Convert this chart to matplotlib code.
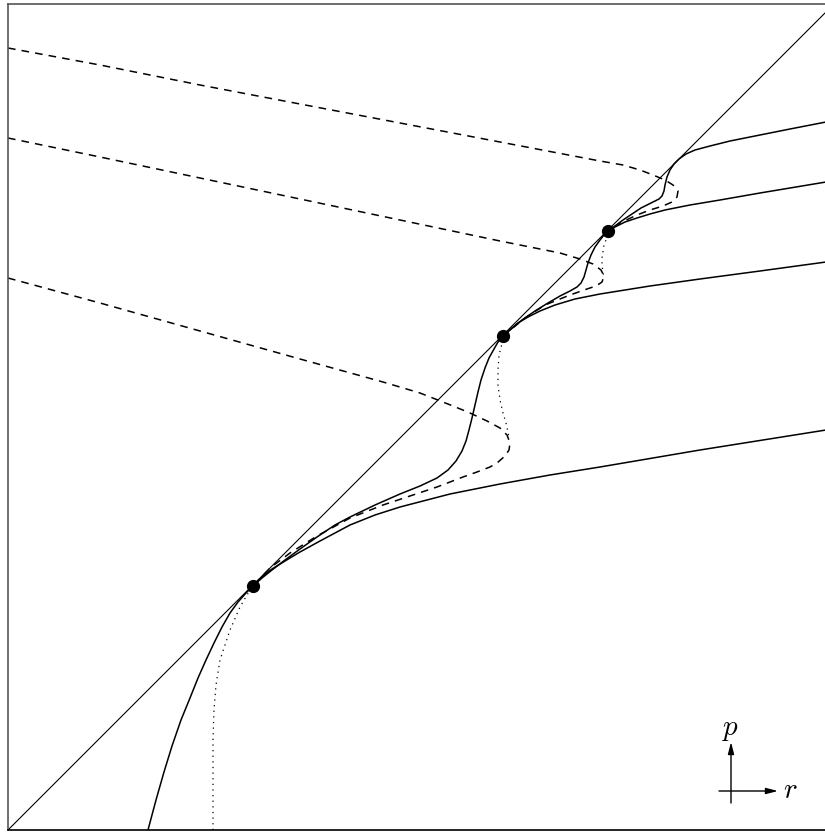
import numpy as np
import matplotlib
matplotlib.use("Agg")
import matplotlib.pyplot as plt

plt.rcParams['mathtext.fontset'] = 'cm'

diag_px = [8, 826]
diag_py = [830, 12]

dots_px = [253, 503, 608]
dots_py = [586, 336, 231]

# solida desde abajo hasta el primer punto fijo
a_px = [148, 156, 164, 172, 181, 190, 198, 206, 214, 222, 230, 238, 246, 253]
a_py = [830, 800, 772, 746, 720, 698, 678, 660, 643, 627, 613, 602, 593, 586]

# punteada desde abajo hasta el primer punto
d1_px = [213, 213, 213, 214, 216, 220, 225, 230, 240, 247, 253]
d1_py = [830, 790, 740, 710, 685, 660, 645, 630, 607, 595, 586]

# solida baja desde el punto 1 hacia la derecha
l1_px = [253, 262, 272, 285, 300, 320, 350, 375, 400, 450, 500, 550, 600, 700, 826]
l1_py = [586, 577, 569, 561, 552, 541, 525, 515, 507, 494, 484, 475, 467, 450, 430]

# discontinua 1
da_px = [8, 100, 200, 300, 383, 420, 453, 470, 487, 500, 507, 510, 509, 505,
         497, 490, 477, 463, 437, 410, 383, 350, 317, 290, 270, 253]
da_py = [278, 303, 331, 359, 382, 393, 406, 413, 421, 428, 435, 443, 450, 456,
         463, 467, 472, 477, 487, 496, 505, 518, 536, 553, 568, 586]

# solida en S entre punto 1 y punto 2
s1_px = [253, 262, 272, 285, 300, 317, 335, 350, 375, 400, 420, 437, 448, 456,
         462, 466, 469, 472, 475, 478, 481, 485, 489, 494, 498, 503]
s1_py = [586, 578, 570, 560, 549, 537, 525, 517, 505, 494, 486, 478, 470, 461,
         451, 441, 430, 418, 405, 392, 380, 368, 358, 349, 342, 336]

# punteada bajo el punto 2
d2_px = [503, 499, 498, 498, 500, 503, 506, 509]
d2_py = [340, 355, 370, 385, 400, 413, 423, 437]

# solida desde el punto 2 a la derecha
r2_px = [503, 510, 518, 528, 540, 555, 575, 600, 650, 700, 760, 826]
r2_py = [336, 330, 323, 317, 311, 305, 299, 294, 286, 279, 271, 262]

# discontinua 2
db_px = [8, 100, 200, 300, 400, 500, 560, 580, 593, 601, 604, 602, 596, 587,
         570, 545, 525, 503]
db_py = [138, 157, 178, 199, 220, 241, 253, 259, 264, 270, 276, 282, 286, 289,
         295, 305, 318, 336]

# solida en S entre punto 2 y punto 3
s2_px = [503, 512, 522, 535, 548, 560, 570, 577, 581, 584, 586, 588, 591, 595,
         600, 604, 608]
s2_py = [336, 328, 320, 311, 303, 296, 291, 287, 283, 277, 270, 263, 255, 247,
         240, 235, 231]

# punteada bajo el punto 3
d3_px = [608, 604, 602, 602, 603, 604]
d3_py = [235, 245, 258, 265, 272, 278]

# discontinua 3
dc_px = [8, 100, 200, 300, 400, 500, 600, 623, 640, 653, 665, 673, 678, 677,
         672, 663, 650, 637, 620, 608]
dc_py = [48, 65, 85, 104, 123, 142, 161, 165, 170, 175, 180, 185, 191, 197,
         202, 206, 210, 215, 223, 231]

# solida en S desde el punto 3 hacia arriba
s3_px = [608, 615, 623, 632, 641, 649, 655, 659, 662, 664, 665, 667, 670, 674,
         679, 686, 695, 710, 730, 760, 790, 826]
s3_py = [231, 226, 220, 214, 208, 204, 201, 199, 196, 191, 185, 177, 170, 164,
         159, 154, 150, 146, 141, 135, 129, 122]

# solida desde el punto 3 a la derecha
r3_px = [608, 615, 625, 637, 650, 665, 690, 720, 760, 826]
r3_py = [231, 227, 222, 218, 214, 210, 205, 200, 193, 182]


def conv(px, py):
    # pixeles -> coordenadas (r, p)
    return np.array(px) - 8, 830 - np.array(py)


fig = plt.figure(figsize=(8.25, 8.35), dpi=100)
ax = fig.add_axes([8 / 825, 5 / 835, 818 / 825, 826 / 835])
ax.set_xlim(0, 818)
ax.set_ylim(0, 826)
ax.set_xticks([])
ax.set_yticks([])
for s in ['top', 'left']:
    ax.spines[s].set_color('#555555')
    ax.spines[s].set_linewidth(1.2)
ax.spines['bottom'].set_color('black')
ax.spines['bottom'].set_linewidth(1.2)
ax.spines['right'].set_visible(False)

lw = 1.1
punteo = (1, 3.5)
rayas = (5, 4)

r, p = conv(diag_px, diag_py)
ax.plot(r, p, color='black', lw=0.8)

solidas = [(a_px, a_py), (l1_px, l1_py), (s1_px, s1_py), (r2_px, r2_py),
           (s2_px, s2_py), (s3_px, s3_py), (r3_px, r3_py)]
for xs, ys in solidas:
    r, p = conv(xs, ys)
    ax.plot(r, p, color='black', lw=lw, solid_joinstyle='round')

for xs, ys in [(da_px, da_py), (db_px, db_py), (dc_px, dc_py)]:
    r, p = conv(xs, ys)
    ax.plot(r, p, color='black', lw=lw, dashes=rayas)

for xs, ys in [(d1_px, d1_py), (d2_px, d2_py), (d3_px, d3_py)]:
    r, p = conv(xs, ys)
    ax.plot(r, p, color='black', lw=0.9, dashes=punteo)

r, p = conv(dots_px, dots_py)
ax.plot(r, p, 'o', color='black', ms=8.5, zorder=5)

# ejes r, p
flecha = dict(arrowstyle='-|>,head_length=0.7,head_width=0.18', color='black',
              lw=1.0, shrinkA=0, shrinkB=0)
ax.annotate('', xy=(723, 88), xytext=(723, 27), arrowprops=flecha)
ax.annotate('', xy=(770, 39), xytext=(711, 39), arrowprops=flecha)
ax.text(722, 101, '$p$', fontsize=21, ha='center', va='center')
ax.text(782, 40, '$r$', fontsize=21, ha='center', va='center')

plt.savefig('out.png', dpi=100)
plt.close()
